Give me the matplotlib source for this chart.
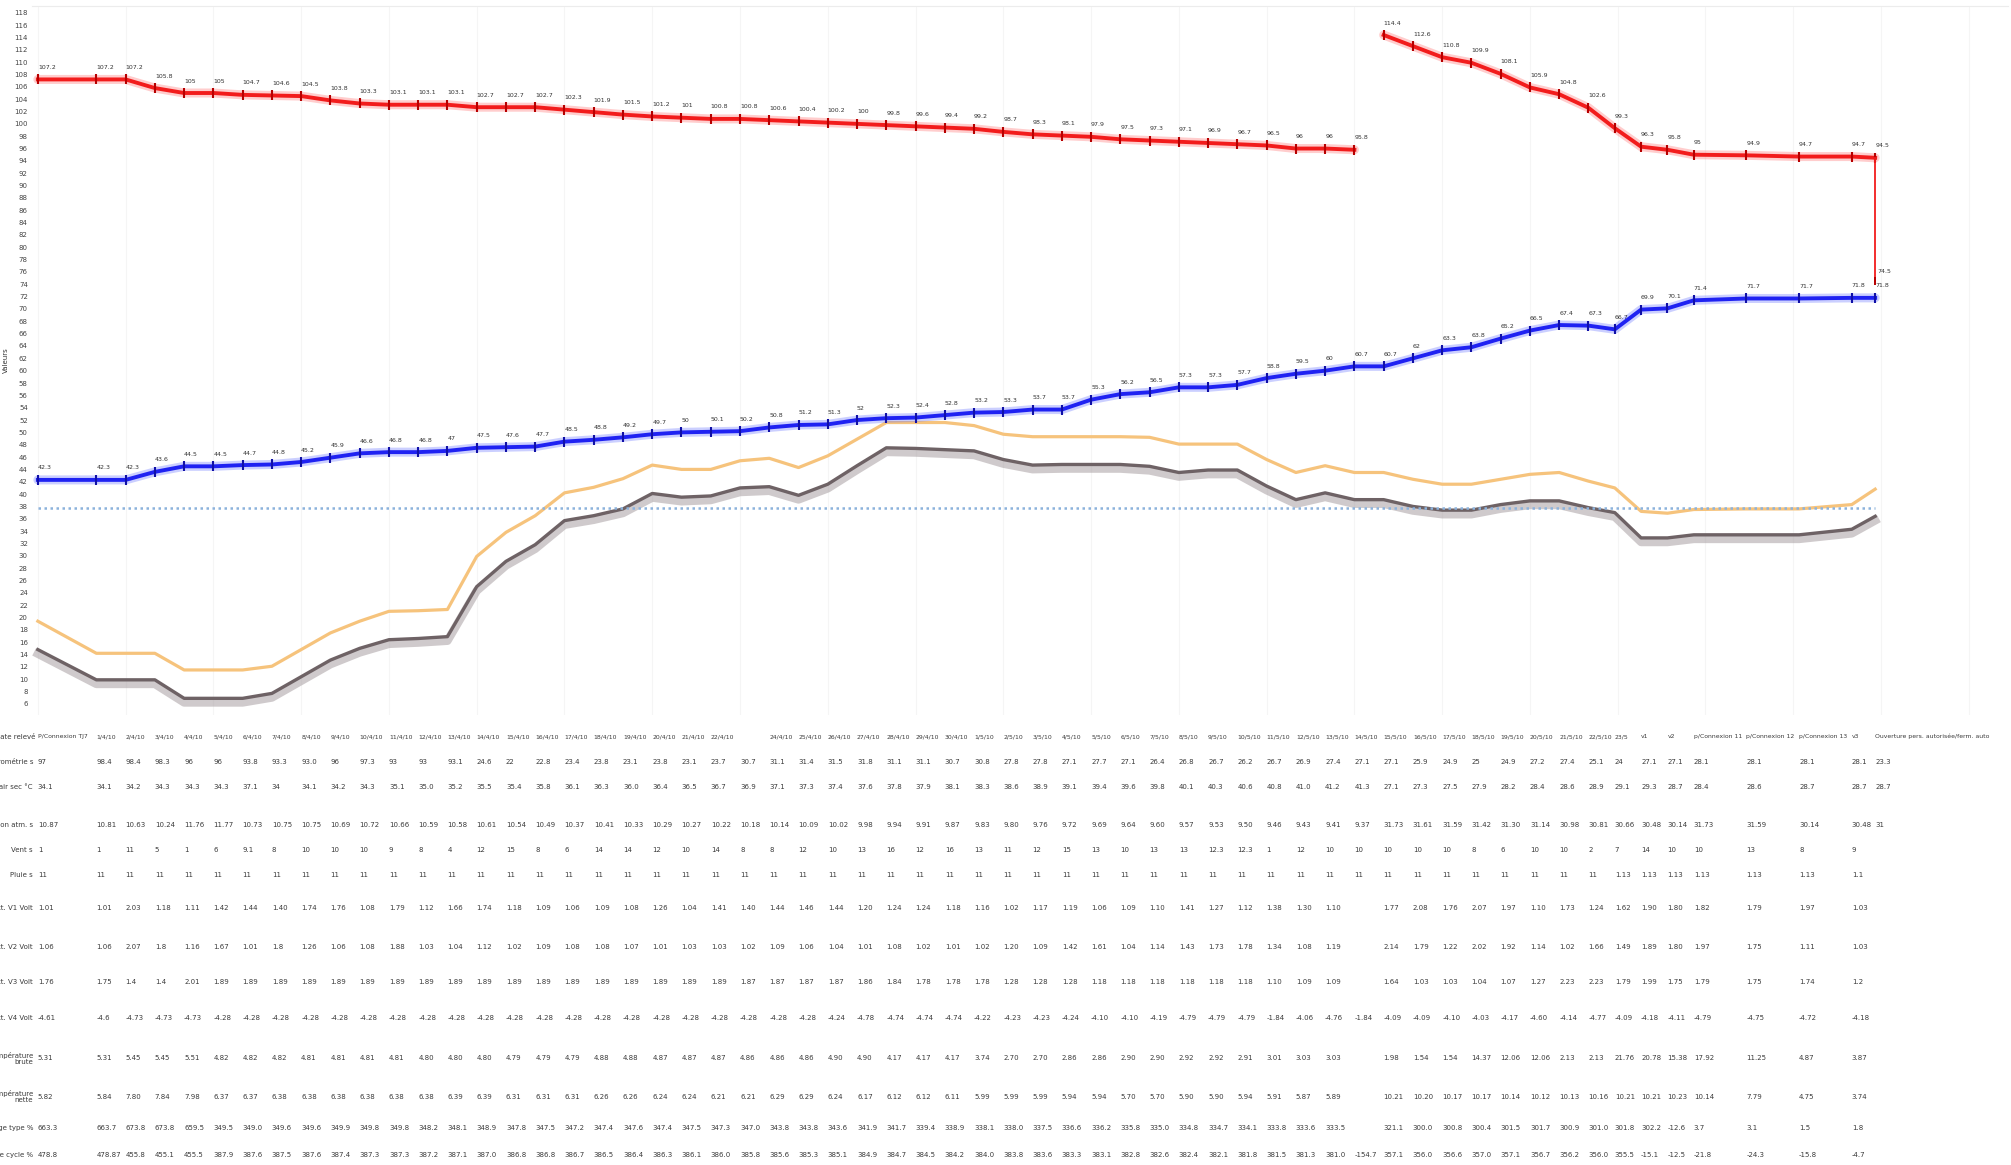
import matplotlib
matplotlib.use("Agg")
import matplotlib.pyplot as plt
import matplotlib.patheffects as pe
import matplotlib.transforms as mtransforms
from matplotlib.ticker import MultipleLocator

# jour de relevé, abscisse commune aux courbes et au tableau
jours = [0, 2, 3, 4, 5, 6, 7, 8, 9, 10, 11, 12, 13, 14, 15, 16, 17, 18, 19, 20,
         21, 22, 23, 24, 25, 26, 27, 28, 29, 30, 31, 32, 33, 34, 35, 36, 37, 38,
         39, 40, 41, 42, 43, 44, 45, 46, 47, 48, 49, 50, 51, 52, 53,
         53.9, 54.8, 55.7, 56.6, 58.4, 60.2, 62.0, 62.8]

# consigne haute (deux périodes) puis retour final
consigne_a = [107.2, 107.2, 107.2, 105.8, 105.0, 105.0, 104.7, 104.6, 104.5, 103.8,
              103.3, 103.1, 103.1, 103.1, 102.7, 102.7, 102.7, 102.3, 101.9, 101.5,
              101.2, 101.0, 100.8, 100.8, 100.6, 100.4, 100.2, 100.0, 99.8, 99.6,
              99.4, 99.2, 98.7, 98.3, 98.1, 97.9, 97.5, 97.3, 97.1, 96.9,
              96.7, 96.5, 96.0, 96.0, 95.8]
consigne_b = [114.4, 112.6, 110.8, 109.9, 108.1, 105.9, 104.8, 102.6, 99.3, 96.3,
              95.8, 95.0, 94.9, 94.7, 94.7, 94.5]
consigne_fin = 74.5

# consigne basse
basse = [42.3, 42.3, 42.3, 43.6, 44.5, 44.5, 44.7, 44.8, 45.2, 45.9,
         46.6, 46.8, 46.8, 47.0, 47.5, 47.6, 47.7, 48.5, 48.8, 49.2,
         49.7, 50.0, 50.1, 50.2, 50.8, 51.2, 51.3, 52.0, 52.3, 52.4,
         52.8, 53.2, 53.3, 53.7, 53.7, 55.3, 56.2, 56.5, 57.3, 57.3,
         57.7, 58.8, 59.5, 60.0, 60.7, 60.7, 62.0, 63.3, 63.8, 65.2,
         66.5, 67.4, 67.3, 66.7, 69.9, 70.1, 71.4, 71.7, 71.7, 71.8, 71.8]

# mesure brute et mesure lissée
mesure = [19.4, 14.2, 14.2, 14.2, 11.5, 11.5, 11.5, 12.1, 14.8, 17.5,
          19.4, 21.0, 21.1, 21.3, 29.9, 33.8, 36.5, 40.2, 41.1, 42.5,
          44.7, 44.0, 44.0, 45.4, 45.8, 44.3, 46.2, 48.9, 51.6, 51.6,
          51.6, 51.1, 49.7, 49.3, 49.3, 49.3, 49.3, 49.2, 48.1, 48.1,
          48.1, 45.6, 43.5, 44.6, 43.5, 43.5, 42.4, 41.6, 41.6, 42.4,
          43.2, 43.5, 42.1, 41.0, 37.2, 36.9, 37.5, 37.6, 37.6, 38.3, 40.8]
lissee = [14.8, 9.9, 9.9, 9.9, 6.9, 6.9, 6.9, 7.7, 10.4, 13.1,
          15.0, 16.4, 16.6, 16.9, 25.0, 29.1, 31.8, 35.7, 36.5, 37.6,
          40.1, 39.5, 39.7, 41.0, 41.2, 39.8, 41.6, 44.6, 47.5, 47.4,
          47.2, 47.0, 45.6, 44.7, 44.8, 44.8, 44.8, 44.5, 43.5, 43.9,
          43.9, 41.3, 39.1, 40.2, 39.1, 39.1, 38.0, 37.4, 37.4, 38.3,
          38.9, 38.9, 37.8, 37.0, 32.9, 32.9, 33.4, 33.4, 33.4, 34.3, 36.4]
seuil = 37.8

y_ticks = list(range(6, 119, 2))

# tableau sous le graphique ("_" = case vide)
entetes = ["P/Connexion TJ7",
           "1/4/10", "2/4/10", "3/4/10", "4/4/10", "5/4/10", "6/4/10", "7/4/10", "8/4/10", "9/4/10", "10/4/10",
           "11/4/10", "12/4/10", "13/4/10", "14/4/10", "15/4/10", "16/4/10", "17/4/10", "18/4/10", "19/4/10", "20/4/10",
           "21/4/10", "22/4/10", "", "24/4/10", "25/4/10", "26/4/10", "27/4/10", "28/4/10", "29/4/10", "30/4/10",
           "1/5/10", "2/5/10", "3/5/10", "4/5/10", "5/5/10", "6/5/10", "7/5/10", "8/5/10", "9/5/10", "10/5/10",
           "11/5/10", "12/5/10", "13/5/10", "14/5/10", "15/5/10", "16/5/10", "17/5/10", "18/5/10", "19/5/10", "20/5/10",
           "21/5/10", "22/5/10", "23/5", "v1", "v2",
           "p/Connexion 11", "p/Connexion 12", "p/Connexion 13", "v3",
           "Ouverture pers. autorisée/ferm. auto"]

lignes = ["Hygrométrie s", "Temp. air sec °C", "Pression atm. s", "Vent s", "Pluie s",
          "Tension batt. V1 Volt", "Tension batt. V2 Volt", "Tension batt. V3 Volt",
          "Tension batt. V4 Volt", "Ecart moyen température\nbrute",
          "Ecart moyen température\nnette", "Charge type %", "Charge cycle %"]

r_hygro = """97 98.4 98.4 98.3 96 96 93.8 93.3 93.0 96
97.3 93 93 93.1 24.6 22 22.8 23.4 23.8 23.1
23.8 23.1 23.7 30.7 31.1 31.4 31.5 31.8 31.1 31.1
30.7 30.8 27.8 27.8 27.1 27.7 27.1 26.4 26.8 26.7
26.2 26.7 26.9 27.4 27.1 27.1 25.9 24.9 25 24.9
27.2 27.4 25.1 24 27.1 27.1 28.1 28.1 28.1 28.1
23.3""".split()
r_temp = """34.1 34.1 34.2 34.3 34.3 34.3 37.1 34 34.1 34.2
34.3 35.1 35.0 35.2 35.5 35.4 35.8 36.1 36.3 36.0
36.4 36.5 36.7 36.9 37.1 37.3 37.4 37.6 37.8 37.9
38.1 38.3 38.6 38.9 39.1 39.4 39.6 39.8 40.1 40.3
40.6 40.8 41.0 41.2 41.3 27.1 27.3 27.5 27.9 28.2
28.4 28.6 28.9 29.1 29.3 28.7 28.4 28.6 28.7 28.7
28.7""".split()
r_press = """10.87 10.81 10.63 10.24 11.76 11.77 10.73 10.75 10.75 10.69
10.72 10.66 10.59 10.58 10.61 10.54 10.49 10.37 10.41 10.33
10.29 10.27 10.22 10.18 10.14 10.09 10.02 9.98 9.94 9.91
9.87 9.83 9.80 9.76 9.72 9.69 9.64 9.60 9.57 9.53
9.50 9.46 9.43 9.41 9.37 31.73 31.61 31.59 31.42 31.30
31.14 30.98 30.81 30.66 30.48 30.14 31.73 31.59 30.14 30.48
31""".split()
r_vent = """1 1 11 5 1 6 9.1 8 10 10
10 9 8 4 12 15 8 6 14 14
12 10 14 8 8 12 10 13 16 12
16 13 11 12 15 13 10 13 13 12.3
12.3 1 12 10 10 10 10 10 8 6
10 10 2 7 14 10 10 13 8 9
_""".split()
r_pluie = """11 11 11 11 11 11 11 11 11 11
11 11 11 11 11 11 11 11 11 11
11 11 11 11 11 11 11 11 11 11
11 11 11 11 11 11 11 11 11 11
11 11 11 11 11 11 11 11 11 11
11 11 11 1.13 1.13 1.13 1.13 1.13 1.13 1.1
_""".split()
r_v1 = """1.01 1.01 2.03 1.18 1.11 1.42 1.44 1.40 1.74 1.76
1.08 1.79 1.12 1.66 1.74 1.18 1.09 1.06 1.09 1.08
1.26 1.04 1.41 1.40 1.44 1.46 1.44 1.20 1.24 1.24
1.18 1.16 1.02 1.17 1.19 1.06 1.09 1.10 1.41 1.27
1.12 1.38 1.30 1.10 _ 1.77 2.08 1.76 2.07 1.97
1.10 1.73 1.24 1.62 1.90 1.80 1.82 1.79 1.97 1.03
_""".split()
r_v2 = """1.06 1.06 2.07 1.8 1.16 1.67 1.01 1.8 1.26 1.06
1.08 1.88 1.03 1.04 1.12 1.02 1.09 1.08 1.08 1.07
1.01 1.03 1.03 1.02 1.09 1.06 1.04 1.01 1.08 1.02
1.01 1.02 1.20 1.09 1.42 1.61 1.04 1.14 1.43 1.73
1.78 1.34 1.08 1.19 _ 2.14 1.79 1.22 2.02 1.92
1.14 1.02 1.66 1.49 1.89 1.80 1.97 1.75 1.11 1.03
_""".split()
r_v3 = """1.76 1.75 1.4 1.4 2.01 1.89 1.89 1.89 1.89 1.89
1.89 1.89 1.89 1.89 1.89 1.89 1.89 1.89 1.89 1.89
1.89 1.89 1.89 1.87 1.87 1.87 1.87 1.86 1.84 1.78
1.78 1.78 1.28 1.28 1.28 1.18 1.18 1.18 1.18 1.18
1.18 1.10 1.09 1.09 _ 1.64 1.03 1.03 1.04 1.07
1.27 2.23 2.23 1.79 1.99 1.75 1.79 1.75 1.74 1.2
_""".split()
r_v4 = """-4.61 -4.6 -4.73 -4.73 -4.73 -4.28 -4.28 -4.28 -4.28 -4.28
-4.28 -4.28 -4.28 -4.28 -4.28 -4.28 -4.28 -4.28 -4.28 -4.28
-4.28 -4.28 -4.28 -4.28 -4.28 -4.28 -4.24 -4.78 -4.74 -4.74
-4.74 -4.22 -4.23 -4.23 -4.24 -4.10 -4.10 -4.19 -4.79 -4.79
-4.79 -1.84 -4.06 -4.76 -1.84 -4.09 -4.09 -4.10 -4.03 -4.17
-4.60 -4.14 -4.77 -4.09 -4.18 -4.11 -4.79 -4.75 -4.72 -4.18
_""".split()
r_ecart_b = """5.31 5.31 5.45 5.45 5.51 4.82 4.82 4.82 4.81 4.81
4.81 4.81 4.80 4.80 4.80 4.79 4.79 4.79 4.88 4.88
4.87 4.87 4.87 4.86 4.86 4.86 4.90 4.90 4.17 4.17
4.17 3.74 2.70 2.70 2.86 2.86 2.90 2.90 2.92 2.92
2.91 3.01 3.03 3.03 _ 1.98 1.54 1.54 14.37 12.06
12.06 2.13 2.13 21.76 20.78 15.38 17.92 11.25 4.87 3.87
_""".split()
r_ecart_n = """5.82 5.84 7.80 7.84 7.98 6.37 6.37 6.38 6.38 6.38
6.38 6.38 6.38 6.39 6.39 6.31 6.31 6.31 6.26 6.26
6.24 6.24 6.21 6.21 6.29 6.29 6.24 6.17 6.12 6.12
6.11 5.99 5.99 5.99 5.94 5.94 5.70 5.70 5.90 5.90
5.94 5.91 5.87 5.89 _ 10.21 10.20 10.17 10.17 10.14
10.12 10.13 10.16 10.21 10.21 10.23 10.14 7.79 4.75 3.74
_""".split()
r_charge_t = """663.3 663.7 673.8 673.8 659.5 349.5 349.0 349.6 349.6 349.9
349.8 349.8 348.2 348.1 348.9 347.8 347.5 347.2 347.4 347.6
347.4 347.5 347.3 347.0 343.8 343.8 343.6 341.9 341.7 339.4
338.9 338.1 338.0 337.5 336.6 336.2 335.8 335.0 334.8 334.7
334.1 333.8 333.6 333.5 _ 321.1 300.0 300.8 300.4 301.5
301.7 300.9 301.0 301.8 302.2 -12.6 3.7 3.1 1.5 1.8
_""".split()
r_charge_c = """478.8 478.87 455.8 455.1 455.5 387.9 387.6 387.5 387.6 387.4
387.3 387.3 387.2 387.1 387.0 386.8 386.8 386.7 386.5 386.4
386.3 386.1 386.0 385.8 385.6 385.3 385.1 384.9 384.7 384.5
384.2 384.0 383.8 383.6 383.3 383.1 382.8 382.6 382.4 382.1
381.8 381.5 381.3 381.0 -154.7 357.1 356.0 356.6 357.0 357.1
356.7 356.2 356.0 355.5 -15.1 -12.5 -21.8 -24.3 -15.8 -4.7
_""".split()

valeurs = [r_hygro, r_temp, r_press, r_vent, r_pluie, r_v1, r_v2, r_v3, r_v4,
           r_ecart_b, r_ecart_n, r_charge_t, r_charge_c]

W, H = 2011, 1165
fig = plt.figure(figsize=(W / 100, H / 100), dpi=100)
ax = fig.add_axes([32 / W, 1 - 715 / H, (2008 - 32) / W, (715 - 6) / H])
ax.set_xlim(-0.2, 67.34)
ax.set_ylim(4.2, 119.1)

for s in ax.spines.values():
    s.set_visible(False)
ax.spines['top'].set_visible(True)
ax.spines['top'].set_color('#ececec')
ax.xaxis.set_major_locator(MultipleLocator(3))
ax.set_xticklabels([])
ax.tick_params(axis='x', length=0)
ax.set_yticks(y_ticks)
ax.tick_params(axis='y', length=0, pad=3, labelsize=5, labelcolor='#444444')
ax.grid(axis='x', color='#f5f5f5', lw=0.8)
ax.set_ylabel('Valeurs', fontsize=5, color='#333333', labelpad=4)

# courbes mesure (orange) et lissée (grise avec ombre)
ax.plot(jours, mesure, color='#f6c37c', lw=2.3, zorder=2)
ax.plot(jours, lissee, color='#6e6265', lw=2.4, zorder=2,
        path_effects=[pe.SimpleLineShadow(offset=(0, -3), shadow_color='#a89fa2',
                                          alpha=0.55, linewidth=6), pe.Normal()])
ax.hlines(seuil, jours[0], jours[-1], colors='#8cb2dc', lw=1.8,
          linestyles=(0, (1, 1.4)), zorder=2)


def serie(x, y, couleur, halo, bord):
    ax.plot(x, y, color=halo, lw=6.5, alpha=0.35, solid_capstyle='round', zorder=3)
    ax.plot(x, y, color=couleur, lw=2.8, marker='|', ms=7, mew=1.5, mec=bord, zorder=4)
    for xi, yi in zip(x, y):
        ax.annotate(f"{yi:g}", (xi, yi), xytext=(0, 12), textcoords='offset pixels',
                    ha='left', va='center', fontsize=4.5, color='#333333')


serie(jours[:45], consigne_a, '#f21c1c', '#ff7070', '#b80000')
serie(jours[45:], consigne_b, '#f21c1c', '#ff7070', '#b80000')
ax.plot([jours[-1], jours[-1]], [consigne_b[-1], consigne_fin], color='#f21c1c', lw=1.3, zorder=4)
ax.plot([jours[-1]], [consigne_fin], marker='|', ms=6, mew=1.4, color='#b80000', zorder=4)
ax.annotate(f"{consigne_fin:g}", (jours[-1], consigne_fin), xytext=(2, 10),
            textcoords='offset pixels', ha='left', va='center', fontsize=4.5, color='#333333')
serie(jours, basse, '#1f22f2', '#6b78ff', '#1010a8')

# tableau : colonnes alignées sur les jours
trans = mtransforms.blended_transform_factory(ax.transData, fig.transFigure)
lignes_y = [761.7, 786.7, 825, 850, 875, 908.3, 946.7, 981.7, 1018.3, 1058.3, 1096.7, 1128.3, 1155]
txt = dict(fontsize=5, color='#3a3a3a')

fig.text(35 / W, 1 - 736.7 / H, 'Date relevé', ha='right', va='center', **txt)
for xj, lab in zip(jours, entetes):
    ax.text(xj, 1 - 736.7 / H, lab, transform=trans, ha='left', va='center',
            fontsize=4.4, color='#3a3a3a')

for nom, ypx, rang in zip(lignes, lignes_y, valeurs):
    fig.text(33 / W, 1 - ypx / H, nom, ha='right', va='center', linespacing=1.0, **txt)
    for xj, v in zip(jours, rang):
        if v != '_':
            ax.text(xj, 1 - ypx / H, v, transform=trans, ha='left', va='center', **txt)

fig.savefig('out.png', dpi=100)
